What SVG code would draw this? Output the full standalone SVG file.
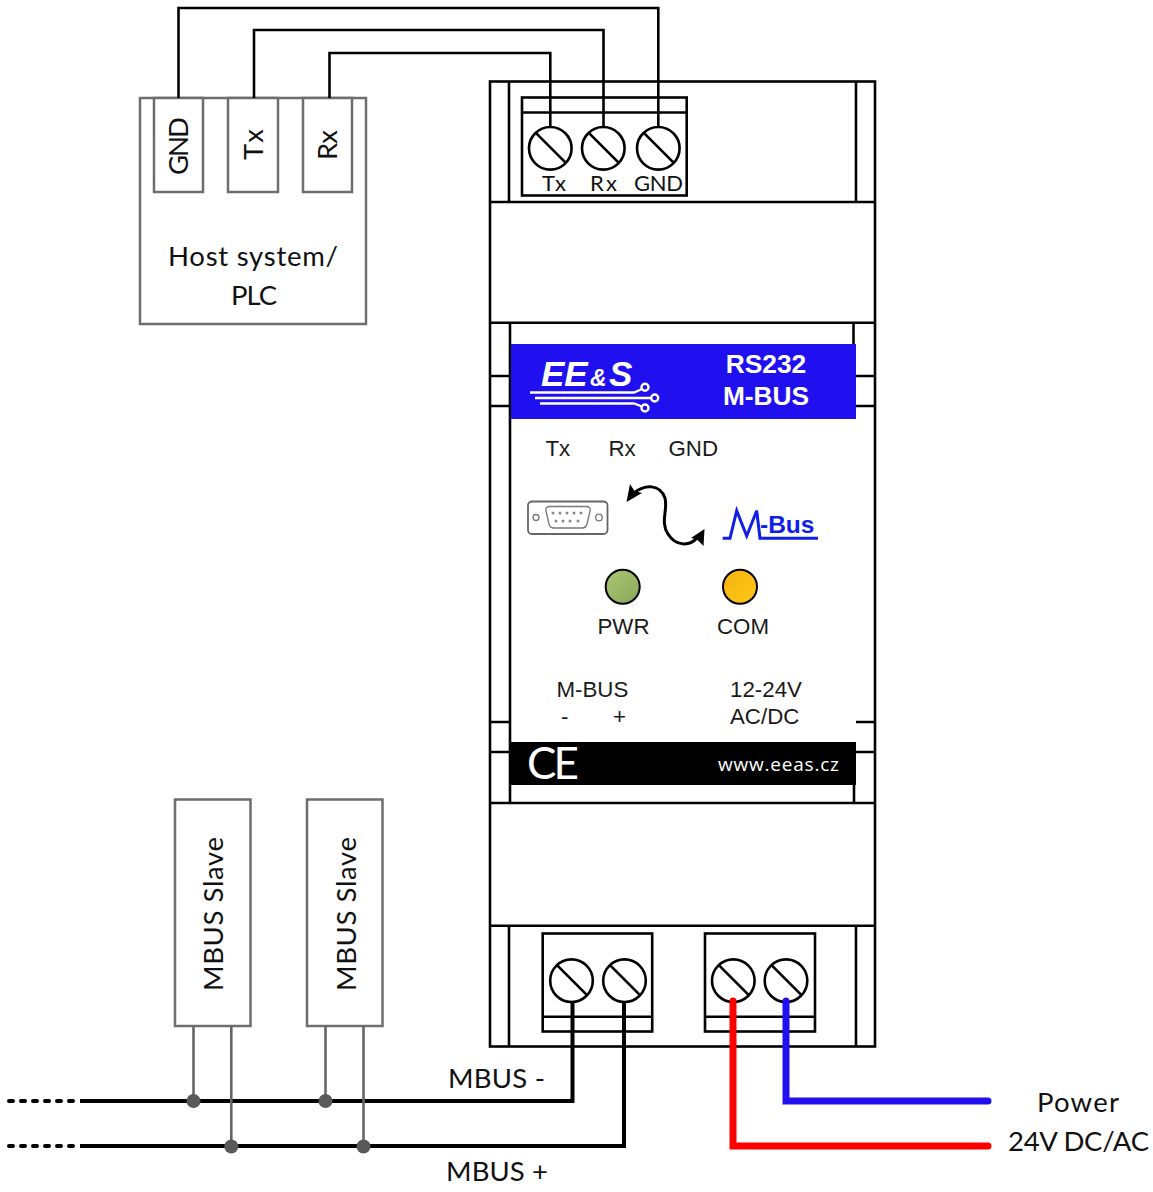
<svg xmlns="http://www.w3.org/2000/svg" width="1153" height="1192" viewBox="0 0 1153 1192">
<style>
.k{fill:none;stroke:#000;stroke-width:2.600}
.g{fill:#fff;stroke:#6e6e6e;stroke-width:2.500}
.s{fill:#fff;stroke:#000;stroke-width:2.600}
.t{font-family:Lato,"Liberation Sans",sans-serif;font-size:27.500px;fill:#111}
.tt{font-family:Lato,"Liberation Sans",sans-serif;font-size:22px;fill:#111}
.a{font-family:"Liberation Sans",Arial,sans-serif;font-size:22.300px;fill:#1a1a1a}
.w{font-family:"Liberation Sans",Arial,sans-serif;font-size:26.300px;font-weight:bold;fill:#fff}
.wire{fill:none;stroke:#000;stroke-width:2.600}
.bus{fill:none;stroke:#000;stroke-width:4}
.tap{fill:none;stroke:#666;stroke-width:2.600}
.dot{fill:#595959}
</style>
<defs>
<linearGradient id="gr" x1="0" y1="0" x2="1" y2="1"><stop offset="0" stop-color="#a8c672"/><stop offset="1" stop-color="#8ba85c"/></linearGradient>
<linearGradient id="ye" x1="0" y1="0" x2="1" y2="1"><stop offset="0" stop-color="#f5b50d"/><stop offset="1" stop-color="#ffc61a"/></linearGradient>
<g id="screw"><circle r="21.300" class="s"/><path d="M-14-15L15 14" class="k"/></g>
</defs>

<g id="host">
<rect x="140" y="98" width="226" height="226" class="g"/>
<rect x="154" y="98" width="49" height="94" class="g"/>
<rect x="228" y="98" width="50" height="94" class="g"/>
<rect x="303" y="98" width="49" height="94" class="g"/>
<text class="t" transform="translate(188 175) rotate(-90)" textLength="58">GND</text>
<text class="t" transform="translate(263 160) rotate(-90)" textLength="31">Tx</text>
<text class="t" transform="translate(337 160) rotate(-90)" textLength="30">Rx</text>
<text class="t" x="168" y="266" textLength="170">Host system/</text>
<text class="t" x="231" y="305" textLength="46">PLC</text>
</g>

<g id="module">
<rect x="490" y="81.500" width="385" height="965" class="s"/>
<path class="k" d="M490 202H875M490 322.700H875M490 803H875M490 925.700H875M509 81.500V202M856 81.500V202M509 925.700V1046.500M856 925.700V1046.500M510 322.700V803M853.500 322.700V344M854 785V803M490 376H511M856 376H875M490 406H511M856 406H875M490 722H511M856 722H875M490 752H511M856 752H875"/>
<rect x="511" y="344" width="345" height="75" fill="#2010f0"/>
<text x="541" y="386" font-family="Liberation Sans,sans-serif" font-size="35" font-weight="bold" font-style="italic" fill="#fff">EE</text>
<text x="590" y="386" font-family="Liberation Sans,sans-serif" font-size="23" font-weight="bold" font-style="italic" fill="#fff">&amp;</text>
<text x="609" y="386" font-family="Liberation Sans,sans-serif" font-size="35" font-weight="bold" font-style="italic" fill="#fff">S</text>
<g fill="none" stroke="#fff" stroke-width="2.400"><path d="M530 392.500H634L642 389M535 398H651M540 403.500H634L642 406.500"/><circle cx="645" cy="387.300" r="3.500"/><circle cx="654.700" cy="398" r="3.500"/><circle cx="645" cy="408" r="3.500"/></g>
<text class="w" x="766" y="373" text-anchor="middle">RS232</text>
<text class="w" x="766" y="405" text-anchor="middle">M-BUS</text>
<text class="a" x="545.500" y="456">Tx</text>
<text class="a" x="608.500" y="456">Rx</text>
<text class="a" x="668.500" y="456">GND</text>
<rect x="528" y="501.500" width="79.500" height="32.500" rx="4" fill="#fff" stroke="#666" stroke-width="1.800"/>
<path d="M550 506.500H586Q591 506.500 590 511L587 524Q586 528 582 528H554Q550 528 549 524L546 511Q545 506.500 550 506.500Z" fill="none" stroke="#777" stroke-width="1.300"/>
<g fill="none" stroke="#777" stroke-width="1.300"><circle cx="536" cy="517.500" r="3"/><circle cx="599" cy="517.500" r="3.300"/></g>
<g fill="#888"><circle cx="553" cy="513" r="1.500"/><circle cx="560" cy="513" r="1.500"/><circle cx="567" cy="513" r="1.500"/><circle cx="574" cy="513" r="1.500"/><circle cx="581" cy="513" r="1.500"/><circle cx="556" cy="521" r="1.500"/><circle cx="563" cy="521" r="1.500"/><circle cx="570" cy="521" r="1.500"/><circle cx="578" cy="521" r="1.500"/></g>
<path d="M634 493C645 484 660 484 665 498C668 510 660 522 668 534C676 547 690 546 697 538" fill="none" stroke="#000" stroke-width="3"/>
<path d="M626.500 502L630 484L634.500 491L642 493Z"/>
<path d="M704.500 529L703.500 546L697 539.500L691 538Z"/>
<path d="M722.700 538.300H730L736.700 510.700L746.700 536L756.700 510.700L760 538.300H818" fill="none" stroke="#0f1ee8" stroke-width="3"/>
<text x="760" y="533" font-family="Liberation Sans,sans-serif" font-size="24.500" font-weight="bold" fill="#0f1ee8">-Bus</text>
<circle cx="622.700" cy="586.700" r="17" fill="url(#gr)" stroke="#000" stroke-width="2"/>
<circle cx="740" cy="586.700" r="17" fill="url(#ye)" stroke="#000" stroke-width="2"/>
<text class="a" x="597.500" y="634">PWR</text>
<text class="a" x="717" y="634">COM</text>
<text class="a" x="556.500" y="697">M-BUS</text>
<text class="a" x="561" y="724">-</text>
<text class="a" x="613" y="724">+</text>
<text class="a" x="730" y="697">12-24V</text>
<text class="a" x="730" y="724">AC/DC</text>
<rect x="511" y="742" width="345" height="43" fill="#000"/>
<text x="527" y="779" font-family="Lato,sans-serif" font-size="44" fill="#fff" textLength="52">CE</text>
<text x="718" y="771" font-family="Open Sans,sans-serif" font-size="19" fill="#fff" textLength="121">www.eeas.cz</text>
<rect x="522" y="97.500" width="164.700" height="98" class="k"/>
<path class="k" d="M522 112.500H686.700"/>
<use href="#screw" x="550.300" y="148.300"/><use href="#screw" x="603.300" y="148.300"/><use href="#screw" x="658.300" y="148.300"/>
<text class="tt" x="542" y="191" textLength="24">Tx</text>
<text class="tt" x="590" y="191" textLength="27">Rx</text>
<text class="tt" x="634" y="191" textLength="49">GND</text>
<rect x="542.700" y="933.500" width="109.500" height="98" class="k"/><path class="k" d="M542.700 1016.700H652.200"/>
<rect x="705" y="933.500" width="110" height="98" class="k"/><path class="k" d="M705 1016.700H815"/>
<use href="#screw" x="571.500" y="980.700"/><use href="#screw" x="624.500" y="980.700"/><use href="#screw" x="733.300" y="980.700"/><use href="#screw" x="786" y="980.700"/>
</g>

<g id="slave-1"><rect x="175" y="799.500" width="75.500" height="226.500" class="g"/><text class="t" transform="translate(223 991) rotate(-90)" textLength="154">MBUS Slave</text></g>
<g id="slave-2"><rect x="307" y="799.500" width="75.500" height="226.500" class="g"/><text class="t" transform="translate(355.500 991) rotate(-90)" textLength="154">MBUS Slave</text></g>

<g id="connectors">
<path class="wire" d="M550.300 127V53H329.500V98M603.500 127V30H254V98M658.300 127V8H178.500V98"/>
<path class="bus" d="M572.500 1001V1101H80M624 1001V1146H80"/>
<path class="bus" d="M9 1101H75M9 1146H75" stroke-dasharray="4 8" stroke-linecap="round"/>
<path d="M733 1001V1146H988" fill="none" stroke="#f00" stroke-width="7" stroke-linecap="round"/>
<path d="M786 1001V1101H988" fill="none" stroke="#2010f0" stroke-width="7" stroke-linecap="round"/>
<path class="tap" d="M193.500 1026V1101M231.300 1026V1146M325.500 1026V1101M363.500 1026V1146"/>
<circle class="dot" cx="193.500" cy="1101" r="7"/><circle class="dot" cx="231.300" cy="1146.500" r="7"/><circle class="dot" cx="325.500" cy="1101" r="7"/><circle class="dot" cx="363.500" cy="1146.500" r="7"/>
</g>
<g id="labels">
<text class="t" x="448" y="1088" textLength="97">MBUS -</text>
<text class="t" x="446" y="1181" textLength="102">MBUS +</text>
<text class="t" x="1037" y="1112" textLength="82">Power</text>
<text class="t" x="1008" y="1151" textLength="141">24V DC/AC</text>
</g>
</svg>
